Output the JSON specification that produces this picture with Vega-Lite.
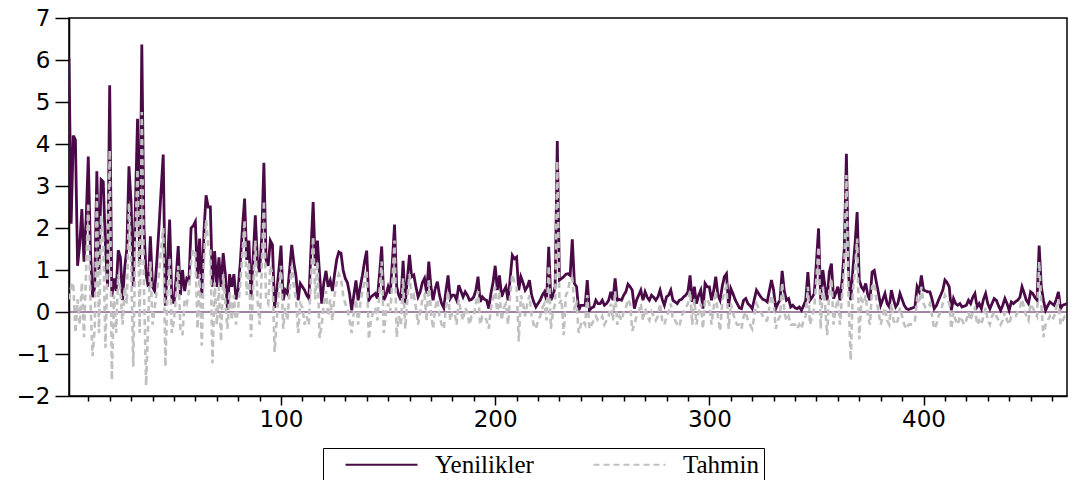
{
"$schema": "https://vega.github.io/schema/vega-lite/v6.json",
"width": 998,
"height": 378,
"autosize": {"type": "none"},
"padding": {"left": 69, "top": 18, "right": 3, "bottom": 84},
"background": "white",
"config": {
  "view": {"stroke": "black", "strokeWidth": 1.5},
  "axis": {"domainColor": "black", "tickColor": "black", "labelColor": "black", "grid": false, "labelFont": "DejaVu Sans", "labelFontSize": 23, "domainWidth": 1.5, "tickWidth": 1.5},
  "legend": {"strokeColor": "black", "padding": 4, "fillColor": "white"}
},
"data": {"values": [
{"t":1,"Yenilikler":6.05,"Tahmin":0.3},{"t":2,"Yenilikler":2.1,"Tahmin":0.6},{"t":3,"Yenilikler":4.2,"Tahmin":0.7},{"t":4,"Yenilikler":4.1,"Tahmin":-0.5},{"t":5,"Yenilikler":1.1,"Tahmin":0.3},{"t":6,"Yenilikler":1.6,"Tahmin":-0.3},{"t":7,"Yenilikler":2.45,"Tahmin":0.7},{"t":8,"Yenilikler":1.2,"Tahmin":-0.6},{"t":9,"Yenilikler":2.2,"Tahmin":1.0},{"t":10,"Yenilikler":3.7,"Tahmin":2.6},
{"t":11,"Yenilikler":1.5,"Tahmin":0.3},{"t":12,"Yenilikler":0.35,"Tahmin":-1.05},{"t":13,"Yenilikler":0.6,"Tahmin":-0.4},{"t":14,"Yenilikler":3.35,"Tahmin":2.8},{"t":15,"Yenilikler":1.0,"Tahmin":-0.5},{"t":16,"Yenilikler":3.15,"Tahmin":2.3},{"t":17,"Yenilikler":3.1,"Tahmin":1.7},{"t":18,"Yenilikler":1.6,"Tahmin":-0.85},{"t":19,"Yenilikler":0.6,"Tahmin":1.1},{"t":20,"Yenilikler":5.4,"Tahmin":3.85},
{"t":21,"Yenilikler":0.36,"Tahmin":-1.62},{"t":22,"Yenilikler":0.8,"Tahmin":0.4},{"t":23,"Yenilikler":0.5,"Tahmin":-0.5},{"t":24,"Yenilikler":1.47,"Tahmin":0.9},{"t":25,"Yenilikler":1.3,"Tahmin":0.5},{"t":26,"Yenilikler":0.28,"Tahmin":-0.3},{"t":27,"Yenilikler":1.05,"Tahmin":0.6},{"t":28,"Yenilikler":1.5,"Tahmin":0.2},{"t":29,"Yenilikler":3.47,"Tahmin":2.6},{"t":30,"Yenilikler":2.6,"Tahmin":1.2},
{"t":31,"Yenilikler":0.6,"Tahmin":-1.3},{"t":32,"Yenilikler":2.5,"Tahmin":1.8},{"t":33,"Yenilikler":4.6,"Tahmin":3.4},{"t":34,"Yenilikler":1.2,"Tahmin":-0.5},{"t":35,"Yenilikler":6.37,"Tahmin":4.76},{"t":36,"Yenilikler":2.0,"Tahmin":0.6},{"t":37,"Yenilikler":0.9,"Tahmin":-1.75},{"t":38,"Yenilikler":0.6,"Tahmin":-0.2},{"t":39,"Yenilikler":1.8,"Tahmin":1.2},{"t":40,"Yenilikler":0.6,"Tahmin":-0.3},
{"t":41,"Yenilikler":0.5,"Tahmin":0.1},{"t":42,"Yenilikler":1.2,"Tahmin":0.5},{"t":43,"Yenilikler":2.0,"Tahmin":0.9},{"t":44,"Yenilikler":2.9,"Tahmin":1.5},{"t":45,"Yenilikler":3.75,"Tahmin":2.0},{"t":46,"Yenilikler":0.15,"Tahmin":-1.3},{"t":47,"Yenilikler":1.2,"Tahmin":0.5},{"t":48,"Yenilikler":2.2,"Tahmin":1.3},{"t":49,"Yenilikler":0.35,"Tahmin":-0.5},{"t":50,"Yenilikler":0.2,"Tahmin":-0.2},
{"t":51,"Yenilikler":0.8,"Tahmin":0.4},{"t":52,"Yenilikler":1.57,"Tahmin":1.1},{"t":53,"Yenilikler":0.4,"Tahmin":-0.4},{"t":54,"Yenilikler":1.0,"Tahmin":-0.55},{"t":55,"Yenilikler":0.5,"Tahmin":0.3},{"t":56,"Yenilikler":0.8,"Tahmin":0.2},{"t":57,"Yenilikler":0.75,"Tahmin":0.5},{"t":58,"Yenilikler":2.0,"Tahmin":1.2},{"t":59,"Yenilikler":2.05,"Tahmin":1.5},{"t":60,"Yenilikler":2.15,"Tahmin":1.4},
{"t":61,"Yenilikler":0.8,"Tahmin":-0.4},{"t":62,"Yenilikler":1.75,"Tahmin":0.9},{"t":63,"Yenilikler":0.35,"Tahmin":-0.8},{"t":64,"Yenilikler":1.9,"Tahmin":1.2},{"t":65,"Yenilikler":2.78,"Tahmin":2.2},{"t":66,"Yenilikler":2.5,"Tahmin":1.6},{"t":67,"Yenilikler":2.5,"Tahmin":1.5},{"t":68,"Yenilikler":0.6,"Tahmin":-1.22},{"t":69,"Yenilikler":1.45,"Tahmin":0.7},{"t":70,"Yenilikler":0.6,"Tahmin":-0.3},
{"t":71,"Yenilikler":1.3,"Tahmin":0.6},{"t":72,"Yenilikler":0.6,"Tahmin":-0.7},{"t":73,"Yenilikler":1.4,"Tahmin":0.9},{"t":74,"Yenilikler":0.9,"Tahmin":0.2},{"t":75,"Yenilikler":0.05,"Tahmin":-0.4},{"t":76,"Yenilikler":0.9,"Tahmin":0.5},{"t":77,"Yenilikler":0.6,"Tahmin":-0.2},{"t":78,"Yenilikler":0.9,"Tahmin":0.4},{"t":79,"Yenilikler":0.3,"Tahmin":-0.3},{"t":80,"Yenilikler":0.55,"Tahmin":0.1},
{"t":81,"Yenilikler":1.2,"Tahmin":0.7},{"t":82,"Yenilikler":2.0,"Tahmin":1.4},{"t":83,"Yenilikler":2.7,"Tahmin":2.2},{"t":84,"Yenilikler":1.24,"Tahmin":0.4},{"t":85,"Yenilikler":1.7,"Tahmin":1.2},{"t":86,"Yenilikler":0.35,"Tahmin":-0.6},{"t":87,"Yenilikler":1.3,"Tahmin":0.6},{"t":88,"Yenilikler":2.3,"Tahmin":1.7},{"t":89,"Yenilikler":1.2,"Tahmin":0.3},{"t":90,"Yenilikler":0.95,"Tahmin":-0.3},
{"t":91,"Yenilikler":1.8,"Tahmin":1.0},{"t":92,"Yenilikler":3.55,"Tahmin":2.65},{"t":93,"Yenilikler":1.25,"Tahmin":0.3},{"t":94,"Yenilikler":1.1,"Tahmin":0.2},{"t":95,"Yenilikler":1.7,"Tahmin":1.1},{"t":96,"Yenilikler":1.6,"Tahmin":0.9},{"t":97,"Yenilikler":0.1,"Tahmin":-0.95},{"t":98,"Yenilikler":0.5,"Tahmin":-0.2},{"t":99,"Yenilikler":1.0,"Tahmin":0.5},{"t":100,"Yenilikler":1.58,"Tahmin":1.1},
{"t":101,"Yenilikler":0.28,"Tahmin":-0.4},{"t":102,"Yenilikler":0.52,"Tahmin":0.1},{"t":103,"Yenilikler":0.44,"Tahmin":-0.2},{"t":104,"Yenilikler":1.0,"Tahmin":0.5},{"t":105,"Yenilikler":1.6,"Tahmin":1.1},{"t":106,"Yenilikler":1.17,"Tahmin":0.6},{"t":107,"Yenilikler":0.85,"Tahmin":0.3},{"t":108,"Yenilikler":0.28,"Tahmin":-0.5},{"t":109,"Yenilikler":0.68,"Tahmin":0.2},{"t":110,"Yenilikler":0.6,"Tahmin":0.1},
{"t":111,"Yenilikler":0.52,"Tahmin":-0.3},{"t":112,"Yenilikler":0.4,"Tahmin":-0.1},{"t":113,"Yenilikler":0.32,"Tahmin":-0.3},{"t":114,"Yenilikler":1.5,"Tahmin":0.8},{"t":115,"Yenilikler":2.62,"Tahmin":1.8},{"t":116,"Yenilikler":1.1,"Tahmin":0.3},{"t":117,"Yenilikler":1.7,"Tahmin":1.2},{"t":118,"Yenilikler":0.9,"Tahmin":-0.62},{"t":119,"Yenilikler":0.2,"Tahmin":-0.3},{"t":120,"Yenilikler":0.7,"Tahmin":0.2},
{"t":121,"Yenilikler":0.98,"Tahmin":0.5},{"t":122,"Yenilikler":0.6,"Tahmin":-0.1},{"t":123,"Yenilikler":0.75,"Tahmin":0.3},{"t":124,"Yenilikler":0.5,"Tahmin":-0.2},{"t":125,"Yenilikler":0.9,"Tahmin":0.4},{"t":126,"Yenilikler":1.25,"Tahmin":0.7},{"t":127,"Yenilikler":1.43,"Tahmin":0.9},{"t":128,"Yenilikler":1.4,"Tahmin":0.8},{"t":129,"Yenilikler":1.0,"Tahmin":0.4},{"t":130,"Yenilikler":0.8,"Tahmin":0.2},
{"t":131,"Yenilikler":0.7,"Tahmin":0.1},{"t":132,"Yenilikler":0.44,"Tahmin":-0.2},{"t":133,"Yenilikler":0.04,"Tahmin":-0.5},{"t":134,"Yenilikler":0.4,"Tahmin":0.0},{"t":135,"Yenilikler":0.75,"Tahmin":0.3},{"t":136,"Yenilikler":0.28,"Tahmin":-0.3},{"t":137,"Yenilikler":0.6,"Tahmin":0.2},{"t":138,"Yenilikler":0.87,"Tahmin":0.5},{"t":139,"Yenilikler":1.2,"Tahmin":0.7},{"t":140,"Yenilikler":1.46,"Tahmin":1.0},
{"t":141,"Yenilikler":0.28,"Tahmin":-0.65},{"t":142,"Yenilikler":0.36,"Tahmin":-0.2},{"t":143,"Yenilikler":0.4,"Tahmin":0.0},{"t":144,"Yenilikler":0.44,"Tahmin":0.1},{"t":145,"Yenilikler":0.32,"Tahmin":-0.2},{"t":146,"Yenilikler":0.9,"Tahmin":0.5},{"t":147,"Yenilikler":1.56,"Tahmin":1.2},{"t":148,"Yenilikler":0.28,"Tahmin":-0.5},{"t":149,"Yenilikler":0.4,"Tahmin":0.0},{"t":150,"Yenilikler":0.6,"Tahmin":0.2},
{"t":151,"Yenilikler":0.44,"Tahmin":0.0},{"t":152,"Yenilikler":1.2,"Tahmin":0.7},{"t":153,"Yenilikler":2.08,"Tahmin":1.7},{"t":154,"Yenilikler":0.6,"Tahmin":-0.6},{"t":155,"Yenilikler":0.4,"Tahmin":-0.1},{"t":156,"Yenilikler":0.28,"Tahmin":-0.3},{"t":157,"Yenilikler":1.22,"Tahmin":0.8},{"t":158,"Yenilikler":0.2,"Tahmin":-0.4},{"t":159,"Yenilikler":0.8,"Tahmin":0.3},{"t":160,"Yenilikler":1.36,"Tahmin":0.9},
{"t":161,"Yenilikler":0.84,"Tahmin":0.3},{"t":162,"Yenilikler":0.88,"Tahmin":0.4},{"t":163,"Yenilikler":0.6,"Tahmin":0.1},{"t":164,"Yenilikler":0.36,"Tahmin":-0.3},{"t":165,"Yenilikler":0.48,"Tahmin":0.0},{"t":166,"Yenilikler":0.7,"Tahmin":0.3},{"t":167,"Yenilikler":0.8,"Tahmin":0.4},{"t":168,"Yenilikler":0.44,"Tahmin":-0.2},{"t":169,"Yenilikler":1.2,"Tahmin":0.8},{"t":170,"Yenilikler":0.6,"Tahmin":0.0},
{"t":171,"Yenilikler":0.28,"Tahmin":-0.4},{"t":172,"Yenilikler":0.56,"Tahmin":0.1},{"t":173,"Yenilikler":0.72,"Tahmin":0.3},{"t":174,"Yenilikler":0.4,"Tahmin":-0.1},{"t":175,"Yenilikler":0.2,"Tahmin":-0.3},{"t":176,"Yenilikler":0.1,"Tahmin":-0.4},{"t":177,"Yenilikler":0.5,"Tahmin":0.1},{"t":178,"Yenilikler":0.87,"Tahmin":0.5},{"t":179,"Yenilikler":0.32,"Tahmin":-0.2},{"t":180,"Yenilikler":0.4,"Tahmin":0.0},
{"t":181,"Yenilikler":0.4,"Tahmin":0.0},{"t":182,"Yenilikler":0.28,"Tahmin":-0.3},{"t":183,"Yenilikler":0.64,"Tahmin":0.3},{"t":184,"Yenilikler":0.5,"Tahmin":0.0},{"t":185,"Yenilikler":0.36,"Tahmin":-0.2},{"t":186,"Yenilikler":0.48,"Tahmin":0.1},{"t":187,"Yenilikler":0.4,"Tahmin":0.0},{"t":188,"Yenilikler":0.28,"Tahmin":-0.3},{"t":189,"Yenilikler":0.3,"Tahmin":-0.1},{"t":190,"Yenilikler":0.36,"Tahmin":-0.1},
{"t":191,"Yenilikler":0.52,"Tahmin":0.2},{"t":192,"Yenilikler":0.84,"Tahmin":0.5},{"t":193,"Yenilikler":0.24,"Tahmin":-0.3},{"t":194,"Yenilikler":0.36,"Tahmin":-0.1},{"t":195,"Yenilikler":0.3,"Tahmin":-0.1},{"t":196,"Yenilikler":0.28,"Tahmin":-0.2},{"t":197,"Yenilikler":0.08,"Tahmin":-0.4},{"t":198,"Yenilikler":0.44,"Tahmin":0.1},{"t":199,"Yenilikler":0.7,"Tahmin":0.3},{"t":200,"Yenilikler":1.1,"Tahmin":0.6},
{"t":201,"Yenilikler":0.52,"Tahmin":-0.1},{"t":202,"Yenilikler":0.87,"Tahmin":0.5},{"t":203,"Yenilikler":0.36,"Tahmin":-0.2},{"t":204,"Yenilikler":0.5,"Tahmin":0.1},{"t":205,"Yenilikler":0.6,"Tahmin":0.2},{"t":206,"Yenilikler":0.28,"Tahmin":-0.3},{"t":207,"Yenilikler":0.8,"Tahmin":0.4},{"t":208,"Yenilikler":1.35,"Tahmin":0.9},{"t":209,"Yenilikler":1.27,"Tahmin":0.7},{"t":210,"Yenilikler":1.31,"Tahmin":0.6},
{"t":211,"Yenilikler":0.52,"Tahmin":-0.7},{"t":212,"Yenilikler":0.84,"Tahmin":0.4},{"t":213,"Yenilikler":0.7,"Tahmin":0.2},{"t":214,"Yenilikler":0.52,"Tahmin":-0.1},{"t":215,"Yenilikler":0.6,"Tahmin":0.2},{"t":216,"Yenilikler":0.76,"Tahmin":0.4},{"t":217,"Yenilikler":0.4,"Tahmin":-0.1},{"t":218,"Yenilikler":0.24,"Tahmin":-0.3},{"t":219,"Yenilikler":0.12,"Tahmin":-0.4},{"t":220,"Yenilikler":0.2,"Tahmin":-0.2},
{"t":221,"Yenilikler":0.28,"Tahmin":-0.1},{"t":222,"Yenilikler":0.4,"Tahmin":0.1},{"t":223,"Yenilikler":0.48,"Tahmin":0.2},{"t":224,"Yenilikler":0.28,"Tahmin":-0.2},{"t":225,"Yenilikler":1.55,"Tahmin":1.1},{"t":226,"Yenilikler":0.28,"Tahmin":-0.4},{"t":227,"Yenilikler":0.4,"Tahmin":0.0},{"t":228,"Yenilikler":0.6,"Tahmin":0.2},{"t":229,"Yenilikler":4.07,"Tahmin":3.6},{"t":230,"Yenilikler":0.76,"Tahmin":0.2},
{"t":231,"Yenilikler":0.8,"Tahmin":0.3},{"t":232,"Yenilikler":0.84,"Tahmin":-0.55},{"t":233,"Yenilikler":0.9,"Tahmin":0.4},{"t":234,"Yenilikler":0.91,"Tahmin":0.5},{"t":235,"Yenilikler":0.87,"Tahmin":0.8},{"t":236,"Yenilikler":1.73,"Tahmin":0.8},{"t":237,"Yenilikler":0.68,"Tahmin":0.1},{"t":238,"Yenilikler":0.6,"Tahmin":0.2},{"t":239,"Yenilikler":0.04,"Tahmin":-0.5},{"t":240,"Yenilikler":0.16,"Tahmin":-0.3},
{"t":241,"Yenilikler":0.16,"Tahmin":-0.2},{"t":242,"Yenilikler":0.16,"Tahmin":-0.3},{"t":243,"Yenilikler":0.76,"Tahmin":0.4},{"t":244,"Yenilikler":0.04,"Tahmin":-0.4},{"t":245,"Yenilikler":0.1,"Tahmin":-0.3},{"t":246,"Yenilikler":0.12,"Tahmin":-0.2},{"t":247,"Yenilikler":0.28,"Tahmin":-0.1},{"t":248,"Yenilikler":0.2,"Tahmin":-0.2},{"t":249,"Yenilikler":0.2,"Tahmin":-0.2},{"t":250,"Yenilikler":0.28,"Tahmin":-0.1},
{"t":251,"Yenilikler":0.16,"Tahmin":-0.3},{"t":252,"Yenilikler":0.2,"Tahmin":-0.2},{"t":253,"Yenilikler":0.28,"Tahmin":-0.1},{"t":254,"Yenilikler":0.48,"Tahmin":0.2},{"t":255,"Yenilikler":0.28,"Tahmin":-0.2},{"t":256,"Yenilikler":0.8,"Tahmin":0.5},{"t":257,"Yenilikler":0.28,"Tahmin":-0.3},{"t":258,"Yenilikler":0.3,"Tahmin":-0.1},{"t":259,"Yenilikler":0.28,"Tahmin":-0.2},{"t":260,"Yenilikler":0.4,"Tahmin":0.0},
{"t":261,"Yenilikler":0.48,"Tahmin":0.1},{"t":262,"Yenilikler":0.66,"Tahmin":0.3},{"t":263,"Yenilikler":0.6,"Tahmin":0.2},{"t":264,"Yenilikler":0.52,"Tahmin":-0.45},{"t":265,"Yenilikler":0.08,"Tahmin":-0.3},{"t":266,"Yenilikler":0.28,"Tahmin":-0.1},{"t":267,"Yenilikler":0.4,"Tahmin":0.0},{"t":268,"Yenilikler":0.52,"Tahmin":0.2},{"t":269,"Yenilikler":0.28,"Tahmin":-0.2},{"t":270,"Yenilikler":0.48,"Tahmin":0.1},
{"t":271,"Yenilikler":0.35,"Tahmin":-0.1},{"t":272,"Yenilikler":0.28,"Tahmin":-0.2},{"t":273,"Yenilikler":0.4,"Tahmin":0.0},{"t":274,"Yenilikler":0.35,"Tahmin":-0.1},{"t":275,"Yenilikler":0.28,"Tahmin":-0.2},{"t":276,"Yenilikler":0.36,"Tahmin":-0.1},{"t":277,"Yenilikler":0.52,"Tahmin":0.2},{"t":278,"Yenilikler":0.3,"Tahmin":-0.2},{"t":279,"Yenilikler":0.16,"Tahmin":-0.3},{"t":280,"Yenilikler":0.36,"Tahmin":-0.1},
{"t":281,"Yenilikler":0.4,"Tahmin":0.0},{"t":282,"Yenilikler":0.52,"Tahmin":0.2},{"t":283,"Yenilikler":0.28,"Tahmin":-0.2},{"t":284,"Yenilikler":0.24,"Tahmin":-0.2},{"t":285,"Yenilikler":0.2,"Tahmin":-0.3},{"t":286,"Yenilikler":0.28,"Tahmin":-0.35},{"t":287,"Yenilikler":0.3,"Tahmin":-0.1},{"t":288,"Yenilikler":0.36,"Tahmin":0.0},{"t":289,"Yenilikler":0.4,"Tahmin":0.1},{"t":290,"Yenilikler":0.48,"Tahmin":0.2},
{"t":291,"Yenilikler":0.87,"Tahmin":0.5},{"t":292,"Yenilikler":0.24,"Tahmin":-0.3},{"t":293,"Yenilikler":0.6,"Tahmin":0.3},{"t":294,"Yenilikler":0.2,"Tahmin":-0.3},{"t":295,"Yenilikler":0.4,"Tahmin":0.0},{"t":296,"Yenilikler":0.52,"Tahmin":0.2},{"t":297,"Yenilikler":0.08,"Tahmin":-0.4},{"t":298,"Yenilikler":0.68,"Tahmin":0.3},{"t":299,"Yenilikler":0.6,"Tahmin":0.3},{"t":300,"Yenilikler":0.6,"Tahmin":0.2},
{"t":301,"Yenilikler":0.28,"Tahmin":-0.3},{"t":302,"Yenilikler":0.5,"Tahmin":0.1},{"t":303,"Yenilikler":0.84,"Tahmin":0.5},{"t":304,"Yenilikler":0.4,"Tahmin":-0.1},{"t":305,"Yenilikler":0.28,"Tahmin":-0.45},{"t":306,"Yenilikler":0.6,"Tahmin":0.2},{"t":307,"Yenilikler":0.84,"Tahmin":0.5},{"t":308,"Yenilikler":0.91,"Tahmin":0.6},{"t":309,"Yenilikler":0.12,"Tahmin":-0.4},{"t":310,"Yenilikler":0.56,"Tahmin":0.2},
{"t":311,"Yenilikler":0.44,"Tahmin":0.0},{"t":312,"Yenilikler":0.3,"Tahmin":-0.2},{"t":313,"Yenilikler":0.2,"Tahmin":-0.3},{"t":314,"Yenilikler":0.1,"Tahmin":-0.3},{"t":315,"Yenilikler":0.08,"Tahmin":-0.4},{"t":316,"Yenilikler":0.28,"Tahmin":-0.1},{"t":317,"Yenilikler":0.32,"Tahmin":0.0},{"t":318,"Yenilikler":0.2,"Tahmin":-0.2},{"t":319,"Yenilikler":0.15,"Tahmin":-0.3},{"t":320,"Yenilikler":0.08,"Tahmin":-0.4},
{"t":321,"Yenilikler":0.3,"Tahmin":-0.1},{"t":322,"Yenilikler":0.52,"Tahmin":0.2},{"t":323,"Yenilikler":0.44,"Tahmin":0.1},{"t":324,"Yenilikler":0.36,"Tahmin":0.0},{"t":325,"Yenilikler":0.3,"Tahmin":-0.1},{"t":326,"Yenilikler":0.28,"Tahmin":-0.2},{"t":327,"Yenilikler":0.24,"Tahmin":-0.2},{"t":328,"Yenilikler":0.5,"Tahmin":0.1},{"t":329,"Yenilikler":0.76,"Tahmin":0.4},{"t":330,"Yenilikler":0.52,"Tahmin":0.2},
{"t":331,"Yenilikler":0.08,"Tahmin":-0.4},{"t":332,"Yenilikler":0.2,"Tahmin":-0.2},{"t":333,"Yenilikler":0.28,"Tahmin":-0.1},{"t":334,"Yenilikler":0.98,"Tahmin":0.7},{"t":335,"Yenilikler":0.5,"Tahmin":0.0},{"t":336,"Yenilikler":0.28,"Tahmin":-0.2},{"t":337,"Yenilikler":0.32,"Tahmin":-0.1},{"t":338,"Yenilikler":0.12,"Tahmin":-0.3},{"t":339,"Yenilikler":0.16,"Tahmin":-0.3},{"t":340,"Yenilikler":0.1,"Tahmin":-0.3},
{"t":341,"Yenilikler":0.08,"Tahmin":-0.4},{"t":342,"Yenilikler":0.12,"Tahmin":-0.3},{"t":343,"Yenilikler":0.04,"Tahmin":-0.4},{"t":344,"Yenilikler":0.15,"Tahmin":-0.2},{"t":345,"Yenilikler":0.28,"Tahmin":-0.1},{"t":346,"Yenilikler":0.95,"Tahmin":0.6},{"t":347,"Yenilikler":0.28,"Tahmin":-0.3},{"t":348,"Yenilikler":0.35,"Tahmin":-0.1},{"t":349,"Yenilikler":0.44,"Tahmin":0.1},{"t":350,"Yenilikler":1.2,"Tahmin":0.8},
{"t":351,"Yenilikler":1.99,"Tahmin":1.55},{"t":352,"Yenilikler":0.28,"Tahmin":-0.4},{"t":353,"Yenilikler":1.0,"Tahmin":0.6},{"t":354,"Yenilikler":0.6,"Tahmin":0.2},{"t":355,"Yenilikler":0.28,"Tahmin":-0.55},{"t":356,"Yenilikler":0.95,"Tahmin":0.5},{"t":357,"Yenilikler":1.15,"Tahmin":0.8},{"t":358,"Yenilikler":0.32,"Tahmin":-0.3},{"t":359,"Yenilikler":0.45,"Tahmin":0.1},{"t":360,"Yenilikler":0.6,"Tahmin":0.3},
{"t":361,"Yenilikler":0.28,"Tahmin":-0.3},{"t":362,"Yenilikler":0.76,"Tahmin":0.4},{"t":363,"Yenilikler":1.5,"Tahmin":1.1},{"t":364,"Yenilikler":3.77,"Tahmin":3.26},{"t":365,"Yenilikler":0.9,"Tahmin":0.3},{"t":366,"Yenilikler":0.28,"Tahmin":-1.15},{"t":367,"Yenilikler":1.0,"Tahmin":0.5},{"t":368,"Yenilikler":1.6,"Tahmin":1.0},{"t":369,"Yenilikler":2.38,"Tahmin":1.75},{"t":370,"Yenilikler":0.76,"Tahmin":-0.65},
{"t":371,"Yenilikler":0.6,"Tahmin":0.3},{"t":372,"Yenilikler":0.52,"Tahmin":0.2},{"t":373,"Yenilikler":0.68,"Tahmin":0.4},{"t":374,"Yenilikler":0.4,"Tahmin":-0.1},{"t":375,"Yenilikler":0.28,"Tahmin":-0.3},{"t":376,"Yenilikler":0.95,"Tahmin":0.6},{"t":377,"Yenilikler":0.99,"Tahmin":0.7},{"t":378,"Yenilikler":0.7,"Tahmin":0.3},{"t":379,"Yenilikler":0.44,"Tahmin":0.0},{"t":380,"Yenilikler":0.16,"Tahmin":-0.3},
{"t":381,"Yenilikler":0.3,"Tahmin":-0.1},{"t":382,"Yenilikler":0.44,"Tahmin":0.1},{"t":383,"Yenilikler":0.2,"Tahmin":-0.2},{"t":384,"Yenilikler":0.12,"Tahmin":-0.3},{"t":385,"Yenilikler":0.52,"Tahmin":0.2},{"t":386,"Yenilikler":0.3,"Tahmin":-0.2},{"t":387,"Yenilikler":0.12,"Tahmin":-0.3},{"t":388,"Yenilikler":0.2,"Tahmin":-0.2},{"t":389,"Yenilikler":0.44,"Tahmin":0.1},{"t":390,"Yenilikler":0.3,"Tahmin":-0.1},
{"t":391,"Yenilikler":0.16,"Tahmin":-0.3},{"t":392,"Yenilikler":0.08,"Tahmin":-0.4},{"t":393,"Yenilikler":0.06,"Tahmin":-0.3},{"t":394,"Yenilikler":0.08,"Tahmin":-0.3},{"t":395,"Yenilikler":0.1,"Tahmin":-0.2},{"t":396,"Yenilikler":0.12,"Tahmin":-0.2},{"t":397,"Yenilikler":0.6,"Tahmin":0.3},{"t":398,"Yenilikler":0.48,"Tahmin":0.2},{"t":399,"Yenilikler":0.87,"Tahmin":0.6},{"t":400,"Yenilikler":0.52,"Tahmin":0.2},
{"t":401,"Yenilikler":0.5,"Tahmin":0.1},{"t":402,"Yenilikler":0.48,"Tahmin":0.1},{"t":403,"Yenilikler":0.48,"Tahmin":0.2},{"t":404,"Yenilikler":0.3,"Tahmin":-0.1},{"t":405,"Yenilikler":0.08,"Tahmin":-0.4},{"t":406,"Yenilikler":0.15,"Tahmin":-0.3},{"t":407,"Yenilikler":0.28,"Tahmin":-0.1},{"t":408,"Yenilikler":0.4,"Tahmin":0.0},{"t":409,"Yenilikler":0.52,"Tahmin":0.2},{"t":410,"Yenilikler":0.76,"Tahmin":0.4},
{"t":411,"Yenilikler":0.7,"Tahmin":0.3},{"t":412,"Yenilikler":0.6,"Tahmin":0.2},{"t":413,"Yenilikler":0.04,"Tahmin":-0.4},{"t":414,"Yenilikler":0.32,"Tahmin":0.0},{"t":415,"Yenilikler":0.2,"Tahmin":-0.2},{"t":416,"Yenilikler":0.16,"Tahmin":-0.3},{"t":417,"Yenilikler":0.2,"Tahmin":-0.1},{"t":418,"Yenilikler":0.12,"Tahmin":-0.2},{"t":419,"Yenilikler":0.14,"Tahmin":-0.3},{"t":420,"Yenilikler":0.16,"Tahmin":-0.2},
{"t":421,"Yenilikler":0.28,"Tahmin":0.0},{"t":422,"Yenilikler":0.2,"Tahmin":-0.2},{"t":423,"Yenilikler":0.35,"Tahmin":0.0},{"t":424,"Yenilikler":0.44,"Tahmin":0.1},{"t":425,"Yenilikler":0.12,"Tahmin":-0.3},{"t":426,"Yenilikler":0.2,"Tahmin":-0.2},{"t":427,"Yenilikler":0.08,"Tahmin":-0.3},{"t":428,"Yenilikler":0.3,"Tahmin":-0.1},{"t":429,"Yenilikler":0.44,"Tahmin":0.1},{"t":430,"Yenilikler":0.2,"Tahmin":-0.2},
{"t":431,"Yenilikler":0.08,"Tahmin":-0.3},{"t":432,"Yenilikler":0.2,"Tahmin":-0.1},{"t":433,"Yenilikler":0.32,"Tahmin":0.0},{"t":434,"Yenilikler":0.28,"Tahmin":-0.1},{"t":435,"Yenilikler":0.15,"Tahmin":-0.2},{"t":436,"Yenilikler":0.04,"Tahmin":-0.3},{"t":437,"Yenilikler":0.16,"Tahmin":-0.2},{"t":438,"Yenilikler":0.32,"Tahmin":0.0},{"t":439,"Yenilikler":0.2,"Tahmin":-0.2},{"t":440,"Yenilikler":0.04,"Tahmin":-0.3},
{"t":441,"Yenilikler":0.24,"Tahmin":-0.1},{"t":442,"Yenilikler":0.2,"Tahmin":-0.1},{"t":443,"Yenilikler":0.25,"Tahmin":-0.1},{"t":444,"Yenilikler":0.28,"Tahmin":0.0},{"t":445,"Yenilikler":0.35,"Tahmin":0.1},{"t":446,"Yenilikler":0.6,"Tahmin":0.3},{"t":447,"Yenilikler":0.45,"Tahmin":0.1},{"t":448,"Yenilikler":0.28,"Tahmin":-0.1},{"t":449,"Yenilikler":0.2,"Tahmin":-0.2},{"t":450,"Yenilikler":0.48,"Tahmin":0.2},
{"t":451,"Yenilikler":0.44,"Tahmin":0.1},{"t":452,"Yenilikler":0.35,"Tahmin":0.0},{"t":453,"Yenilikler":0.28,"Tahmin":-0.1},{"t":454,"Yenilikler":1.58,"Tahmin":1.2},{"t":455,"Yenilikler":0.6,"Tahmin":0.2},{"t":456,"Yenilikler":0.28,"Tahmin":-0.6},{"t":457,"Yenilikler":0.04,"Tahmin":-0.3},{"t":458,"Yenilikler":0.15,"Tahmin":-0.2},{"t":459,"Yenilikler":0.24,"Tahmin":-0.1},{"t":460,"Yenilikler":0.2,"Tahmin":-0.2},
{"t":461,"Yenilikler":0.16,"Tahmin":-0.1},{"t":462,"Yenilikler":0.3,"Tahmin":0.1},{"t":463,"Yenilikler":0.48,"Tahmin":0.3},{"t":464,"Yenilikler":0.08,"Tahmin":-0.3},{"t":465,"Yenilikler":0.16,"Tahmin":-0.2},{"t":466,"Yenilikler":0.18,"Tahmin":-0.1},{"t":467,"Yenilikler":0.2,"Tahmin":-0.1}
]},
"resolve": {"axis": {"x": "independent"}},
"layer": [
  {
    "data": {"values": [{"z": 0}]},
    "mark": {"type": "rule", "color": "#4a0a47", "strokeWidth": 1.2},
    "encoding": {"y": {"field": "z", "type": "quantitative", "scale": {"domain": [-2, 7]}}}
  },
  {
    "mark": {"type": "line", "strokeWidth": 2.8, "clip": true},
    "encoding": {
      "x": {"field": "t", "type": "quantitative", "scale": {"domain": [1, 467], "nice": false, "zero": false},
        "axis": {"title": null, "orient": "bottom", "values": [10,20,30,40,50,60,70,80,90,110,120,130,140,150,160,170,180,190,210,220,230,240,250,260,270,280,290,310,320,330,340,350,360,370,380,390,410,420,430,440,450,460],
          "labels": false, "tickSize": 5, "domain": false}},
      "y": {"field": "Yenilikler", "type": "quantitative", "scale": {"domain": [-2, 7], "nice": false},
        "axis": {"title": null, "values": [-2,-1,0,1,2,3,4,5,6,7], "tickSize": 14, "labelPadding": 5, "labelOverlap": false, "labelFlush": false}},
      "color": {"datum": "Yenilikler", "type": "nominal", "scale": {"domain": ["Yenilikler", "Tahmin"], "range": ["#4a0a47", "#c0c0c0"]},
        "legend": {"title": null, "orient": "none", "legendX": 254, "legendY": 430, "direction": "horizontal",
          "symbolType": "M -4 0 L 4 0", "symbolSize": 324, "symbolStrokeWidth": 2, "labelFont": "Liberation Serif", "labelFontSize": 25, "labelColor": "black",
          "labelOffset": 41, "columnPadding": 41, "symbolOffset": 42}},
      "strokeDash": {"datum": "Yenilikler", "type": "nominal", "scale": {"domain": ["Yenilikler", "Tahmin"], "range": [[1, 0], [6, 4]]}}
    }
  },
  {
    "mark": {"type": "line", "strokeWidth": 2.6, "clip": true},
    "encoding": {
      "x": {"field": "t", "type": "quantitative",
        "axis": {"title": null, "orient": "bottom", "values": [100, 200, 300, 400], "format": "d", "tickSize": 9, "labelPadding": 3, "labelOverlap": false, "labelFlush": false}},
      "y": {"field": "Tahmin", "type": "quantitative"},
      "color": {"datum": "Tahmin", "type": "nominal"},
      "strokeDash": {"datum": "Tahmin", "type": "nominal"}
    }
  }
]
}
